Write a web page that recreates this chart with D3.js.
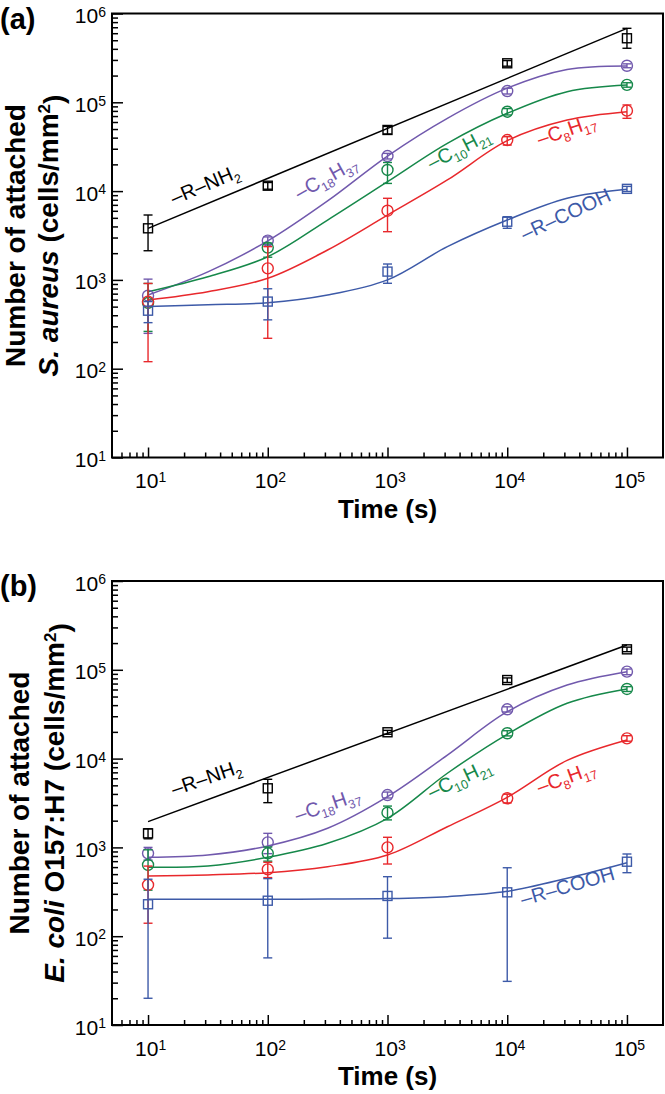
<!DOCTYPE html>
<html><head><meta charset="utf-8">
<script src="https://cdn.jsdelivr.net/npm/d3@7"></script>
<style>
body{margin:0;background:#fff}
svg{display:block}
text{font-family:"Liberation Sans",Arial,Helvetica,sans-serif}
</style>
</head><body>
<svg id="c" width="665" height="1094"></svg>
<script>
// ---------- DATA ----------
const times = [10, 100, 1000, 10000, 100000];
const fitTimes = [10, 31.6, 100, 316, 1000, 3162, 10000, 31623, 100000];
const lineTimes = [10, 100000];
const xTickMajor = [10, 100, 1000, 10000, 100000];
const yTickMajor = [10, 100, 1000, 10000, 100000, 1000000];
const seriesKeys = ["NH2", "C18", "C10", "C8", "COOH"];
const seriesColors = ["#000000", "#7159ad", "#16884a", "#e8282c", "#3d5aa8"];
const seriesMarkers = ["square", "circle", "circle", "circle", "square"];

// Panel (a) S. aureus
const aNH2 = [3810, 11500, 48800, 275000, 526000];
const aNH2Lo = [2130, 10500, 44000, 255000, 406000];
const aNH2Hi = [5380, 12500, 53500, 295000, 681000];
const aC18 = [664, 2770, 24800, 134000, 258000];
const aC18Lo = [250, 2500, 23000, 124000, 245000];
const aC18Hi = [1020, 3050, 26600, 144000, 271000];
const aC10 = [550, 2310, 17300, 78400, 157000];
const aC10Lo = [263, 1800, 12200, 72000, 148000];
const aC10Hi = [912, 2600, 21000, 85000, 166000];
const aC8 = [570, 1350, 6010, 37600, 80500];
const aC8Lo = [120, 220, 3490, 33000, 66000];
const aC8Hi = [912, 2370, 8300, 41000, 93300];
const aCOOH = [450, 570, 1240, 4520, 10600];
const aCOOHLo = [330, 355, 916, 3810, 9900];
const aCOOHHi = [570, 795, 1510, 5150, 11300];
const aFitNH2 = [3800, 680000];
const aFitC18 = [676, 1230, 2754, 7760, 24830, 66070, 144500, 234400, 257000];
const aFitC10 = [736, 1086, 1824, 4720, 12760, 34510, 75160, 131800, 156700];
const aFitC8 = [594, 736, 1042, 2173, 5370, 13340, 36980, 63100, 78340];
const aFitCOOH = [501, 525, 553, 676, 1000, 2366, 4721, 8299, 10470];

// Panel (b) E. coli O157:H7
const bNH2 = [1440, 4630, 19800, 76700, 170000];
const bNH2Lo = [1250, 3190, 18800, 72000, 160000];
const bNH2Hi = [1620, 5850, 20800, 81000, 180000];
const bC18 = [857, 1140, 3890, 35900, 95300];
const bC18Lo = [720, 850, 3600, 33500, 88000];
const bC18Hi = [1000, 1440, 4200, 38300, 102000];
const bC10 = [634, 857, 2460, 19300, 60800];
const bC10Lo = [330, 700, 2040, 18000, 57000];
const bC10Hi = [940, 1010, 2920, 20600, 64600];
const bC8 = [378, 566, 1000, 3570, 16900];
const bC8Lo = [140, 457, 650, 3170, 15700];
const bC8Hi = [616, 680, 1300, 3970, 18100];
const bCOOH = [229, 251, 284, 312, 690];
const bCOOHLo = [20, 57, 95, 31, 519];
const bCOOHHi = [438, 445, 468, 590, 843];
const bFitNH2 = [1950, 190000];
const bFitC18 = [773, 820, 1038, 1641, 3724, 10960, 33730, 67450, 95280];
const bFitC10 = [597, 617, 773, 1112, 2123, 6839, 18790, 41980, 60810];
const bFitC8 = [476, 490, 519, 607, 820, 1710, 3664, 9550, 16220];
const bFitCOOH = [260, 260, 261, 262, 265, 279, 320, 449, 673];

// curve label texts (parts: [text, isSubscript])
const labelParts = {
  NH2: [["\u2013R\u2013NH", 0], ["2", 1]],
  C18: [["\u2013C", 0], ["18", 1], ["H", 0], ["37", 1]],
  C10: [["\u2013C", 0], ["10", 1], ["H", 0], ["21", 1]],
  C8: [["\u2013C", 0], ["8", 1], ["H", 0], ["17", 1]],
  COOH: [["\u2013R\u2013COOH", 0]]
};
// label anchors in data space [time, value, angle]
const aLabelAnchors = {NH2: [16.5, 6970, -23], C18: [184, 7940, -29], C10: [2333, 17300, -27], C8: [18700, 32200, -19], COOH: [14000, 2740, -25]};
const bLabelAnchors = {NH2: [16.5, 3790, -19], C18: [177, 1930, -19], C10: [2333, 3510, -25], C8: [18700, 3990, -20], COOH: [13500, 219, -16]};

const panels = [
  {tag: "(a)", top: 13.5, titleX: [25, 58], org: "S. aureus", orgRest: " (cells/mm",
   pts: {NH2: [aNH2, aNH2Lo, aNH2Hi], C18: [aC18, aC18Lo, aC18Hi], C10: [aC10, aC10Lo, aC10Hi], C8: [aC8, aC8Lo, aC8Hi], COOH: [aCOOH, aCOOHLo, aCOOHHi]},
   fits: {NH2: aFitNH2, C18: aFitC18, C10: aFitC10, C8: aFitC8, COOH: aFitCOOH}, labels: aLabelAnchors},
  {tag: "(b)", top: 581, titleX: [29, 64], org: "E. coli", orgRest: " O157:H7 (cells/mm",
   pts: {NH2: [bNH2, bNH2Lo, bNH2Hi], C18: [bC18, bC18Lo, bC18Hi], C10: [bC10, bC10Lo, bC10Hi], C8: [bC8, bC8Lo, bC8Hi], COOH: [bCOOH, bCOOHLo, bCOOHHi]},
   fits: {NH2: bFitNH2, C18: bFitC18, C10: bFitC10, C8: bFitC8, COOH: bFitCOOH}, labels: bLabelAnchors}
];

// ---------- DRAW ----------
const svg = d3.select("#c");
const left = 112, right = 663, H = 444;
const x = d3.scaleLog().domain([5, 200000]).range([left, right]);

const xMinor = [];
for (let k = 0; k <= 4; k++) for (let m = 2; m <= 9; m++) { const v = m * Math.pow(10, k); if (v > 5 && v < 200000) xMinor.push(v); }
const yMinor = [];
for (let k = 1; k <= 5; k++) for (let m = 2; m <= 9; m++) yMinor.push(m * Math.pow(10, k));

panels.forEach(p => {
  const top = p.top, bottom = top + H;
  const y = d3.scaleLog().domain([10, 1e6]).range([bottom, top]);
  const g = svg.append("g");

  const styleAxis = sel => { sel.select(".domain").remove(); sel.selectAll(".tick line").attr("stroke", "#000").attr("stroke-width", 1.5); };
  g.append("g").attr("transform", `translate(0,${bottom})`)
    .call(d3.axisBottom(x).tickValues(xMinor).tickSize(-5).tickFormat("")).call(styleAxis);
  const xa = g.append("g").attr("transform", `translate(0,${bottom})`)
    .call(d3.axisBottom(x).tickValues(xTickMajor).tickSize(-10).tickPadding(16).tickFormat(() => "10"))
    .call(styleAxis);
  xa.attr("font-size", 21).attr("font-family", null);
  xa.selectAll(".tick text").attr("fill", "#000").append("tspan").attr("dy", "-0.45em").attr("font-size", 14)
    .text(d => Math.round(Math.log10(d)));
  xa.selectAll(".tick text").attr("dx", "0.1em");

  g.append("g").attr("transform", `translate(${left},0)`)
    .call(d3.axisLeft(y).tickValues(yMinor).tickSize(-6).tickFormat("")).call(styleAxis);
  const ya = g.append("g").attr("transform", `translate(${left},0)`)
    .call(d3.axisLeft(y).tickValues(yTickMajor).tickSize(-11).tickPadding(6).tickFormat(() => "10"))
    .call(styleAxis);
  ya.attr("font-size", 21).attr("font-family", null);
  ya.selectAll(".tick text").attr("fill", "#000").attr("dy", "0.43em").append("tspan").attr("dy", "-0.45em").attr("font-size", 14)
    .text(d => Math.round(Math.log10(d)));

  g.append("rect").attr("x", left).attr("y", top).attr("width", right - left).attr("height", H)
    .attr("fill", "none").attr("stroke", "#000").attr("stroke-width", 2);

  const line = d3.line().x(d => x(d[0])).y(d => y(d[1])).curve(d3.curveCatmullRom.alpha(0.5));
  seriesKeys.forEach((k, i) => {
    const f = p.fits[k];
    const tt = f.length === 2 ? lineTimes : fitTimes;
    g.append("path").datum(tt.map((t, j) => [t, f[j]])).attr("d", line)
      .attr("fill", "none").attr("stroke", seriesColors[i]).attr("stroke-width", 1.5);
  });

  seriesKeys.forEach((k, i) => {
    const [v, lo, hi] = p.pts[k];
    const c = seriesColors[i];
    const sg = g.append("g").attr("stroke", c).attr("fill", "none").attr("stroke-width", 1.4);
    const data = times.map((t, j) => ({t, v: v[j], lo: lo[j], hi: hi[j]}));
    sg.selectAll("line.eb").data(data).join("line").attr("class", "eb")
      .attr("x1", d => x(d.t)).attr("x2", d => x(d.t)).attr("y1", d => y(d.lo)).attr("y2", d => y(d.hi));
    sg.selectAll("line.cl").data(data).join("line").attr("class", "cl")
      .attr("x1", d => x(d.t) - 4.5).attr("x2", d => x(d.t) + 4.5).attr("y1", d => y(d.lo)).attr("y2", d => y(d.lo));
    sg.selectAll("line.ch").data(data).join("line").attr("class", "ch")
      .attr("x1", d => x(d.t) - 4.5).attr("x2", d => x(d.t) + 4.5).attr("y1", d => y(d.hi)).attr("y2", d => y(d.hi));
    if (seriesMarkers[i] === "square") {
      sg.selectAll("rect").data(data).join("rect")
        .attr("x", d => x(d.t) - 4.5).attr("y", d => y(d.v) - 4.5).attr("width", 9).attr("height", 9);
    } else {
      sg.selectAll("circle").data(data).join("circle")
        .attr("cx", d => x(d.t)).attr("cy", d => y(d.v)).attr("r", 5.5);
    }
  });

  seriesKeys.forEach((k, i) => {
    const [t, v, ang] = p.labels[k];
    const tx = g.append("text").attr("transform", `translate(${x(t)},${y(v)}) rotate(${ang})`)
      .attr("fill", seriesColors[i]).attr("font-size", 20);
    let sub = false;
    labelParts[k].forEach(([s, isSub]) => {
      const ts = tx.append("tspan").text(s);
      if (isSub && !sub) { ts.attr("dy", 5).attr("font-size", 12.5); sub = true; }
      else if (isSub) { ts.attr("font-size", 12.5); }
      else if (!isSub && sub) { ts.attr("dy", -5); sub = false; }
    });
  });

  g.append("text").attr("x", (left + right) / 2).attr("y", bottom + 60).attr("text-anchor", "middle")
    .attr("font-size", 26).attr("font-weight", "bold").text("Time (s)");
  const cy = (top + bottom) / 2;
  g.append("text").attr("transform", `translate(${p.titleX[0]},${cy}) rotate(-90)`).attr("text-anchor", "middle")
    .attr("font-size", 28).attr("font-weight", "bold").text("Number of attached");
  const t2 = g.append("text").attr("transform", `translate(${p.titleX[1]},${cy}) rotate(-90)`).attr("text-anchor", "middle")
    .attr("font-size", 28).attr("font-weight", "bold");
  t2.append("tspan").attr("font-style", "italic").text(p.org);
  t2.append("tspan").text(p.orgRest);
  t2.append("tspan").attr("dy", "-0.45em").attr("font-size", 17).text("2");
  t2.append("tspan").attr("dy", "0.45em").text(")");

  g.append("text").attr("x", 0).attr("y", top + 15).attr("font-size", 29).attr("font-weight", "bold").text(p.tag);
});
</script>
</body></html>
